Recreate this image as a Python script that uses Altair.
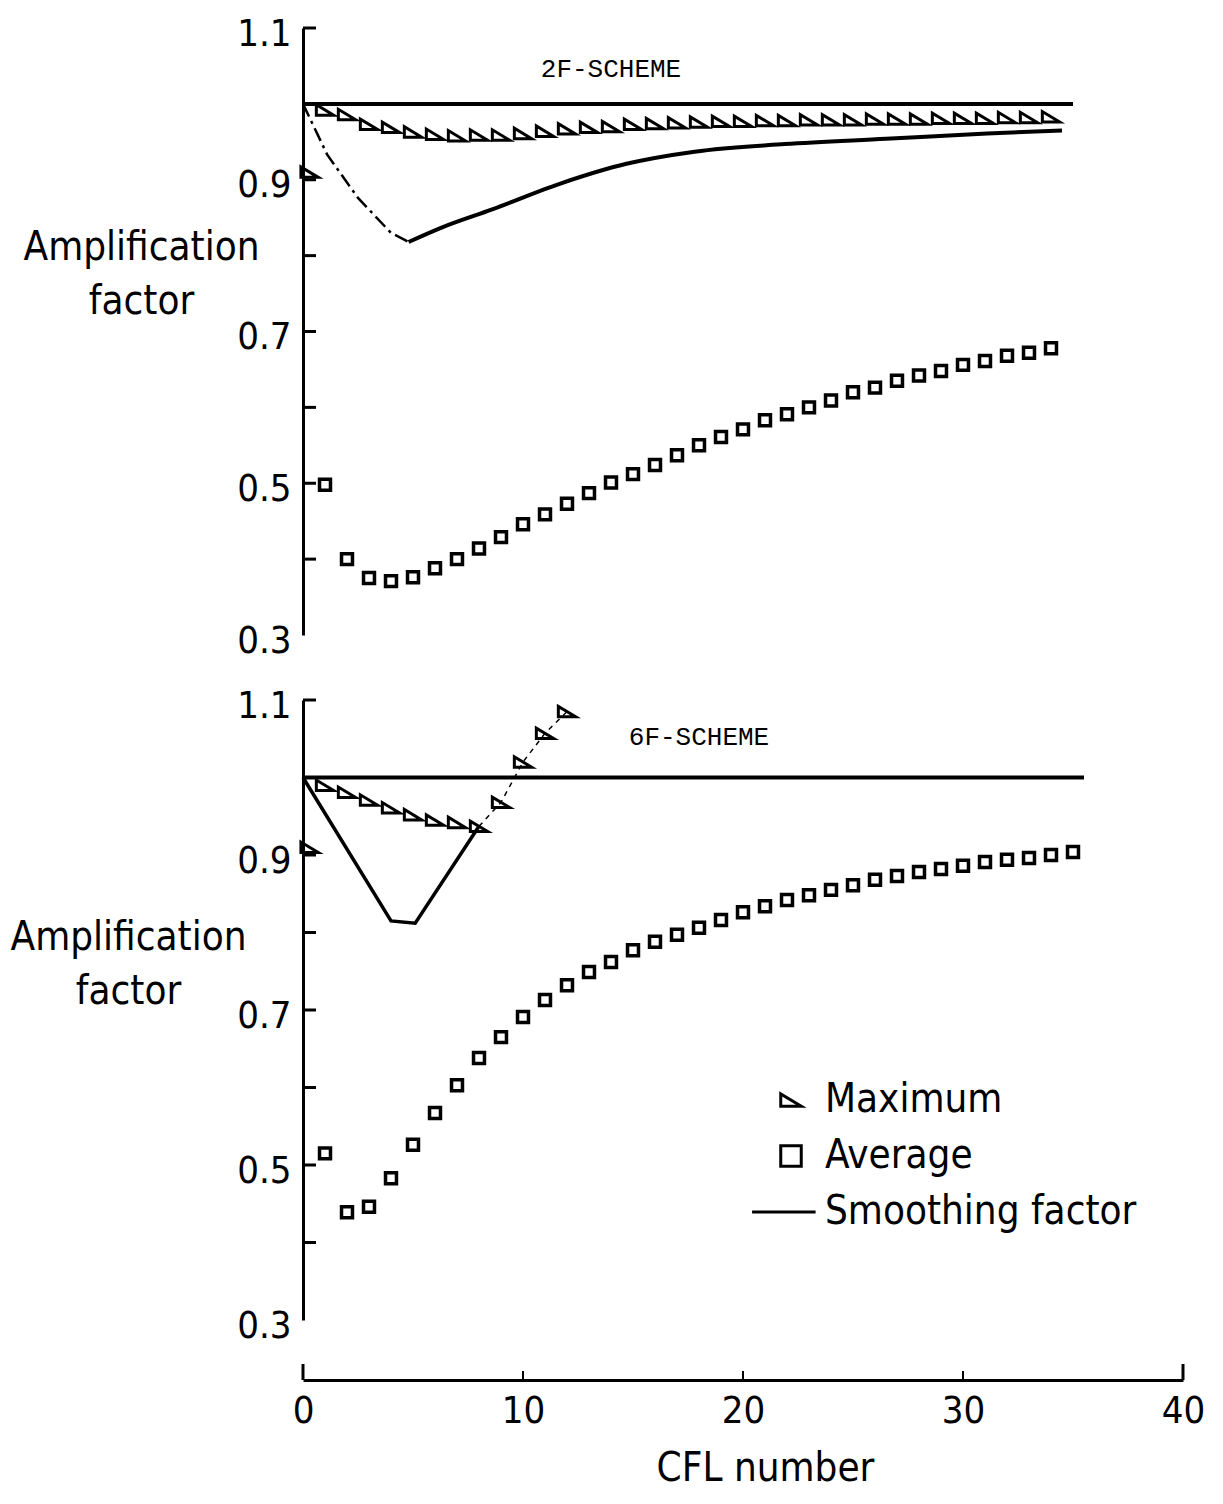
import altair as alt
import pandas as pd

# ---------------- data ----------------
# 2F-SCHEME (upper panel)
avg_2f_cfl = list(range(1, 35))
avg_2f = [0.498, 0.400, 0.375, 0.371, 0.376, 0.388, 0.400, 0.414, 0.429, 0.446,
          0.459, 0.473, 0.487, 0.501, 0.512, 0.524, 0.537, 0.550, 0.561, 0.571,
          0.583, 0.591, 0.600, 0.609, 0.620, 0.626, 0.635, 0.642, 0.648, 0.656,
          0.661, 0.668, 0.672, 0.678]
max_2f_cfl = [0.3] + list(range(1, 35))
max_2f = [0.91,
          0.992, 0.986, 0.973, 0.969, 0.963, 0.960, 0.958, 0.959, 0.959, 0.961,
          0.964, 0.967, 0.969, 0.970, 0.973, 0.974, 0.975, 0.976, 0.977, 0.977,
          0.978, 0.978, 0.979, 0.979, 0.979, 0.980, 0.980, 0.980, 0.981, 0.981,
          0.981, 0.982, 0.982, 0.983]
smooth_2f_cfl = [0, 1.1, 2.5, 4.0, 4.8, 6.3, 8.6, 11.7, 14.7, 17.8, 21.9, 26.5, 31.1, 34.5]
smooth_2f = [1.0, 0.933, 0.876, 0.830, 0.818, 0.837, 0.861, 0.895, 0.921, 0.937,
             0.947, 0.954, 0.961, 0.965]
smooth_2f_dashed_until = 4.8
unity_2f_cfl = [0, 35]
unity_2f = [1.0, 1.0]

# 6F-SCHEME (lower panel)
avg_6f_cfl = list(range(1, 36))
avg_6f = [0.515, 0.439, 0.446, 0.483, 0.526, 0.567, 0.603, 0.638, 0.665, 0.691,
          0.713, 0.732, 0.749, 0.762, 0.777, 0.788, 0.797, 0.806, 0.816, 0.826,
          0.834, 0.842, 0.848, 0.855, 0.861, 0.868, 0.873, 0.878, 0.882, 0.886,
          0.891, 0.894, 0.896, 0.900, 0.904]
max_6f_cfl = [0.3] + list(range(1, 13))
max_6f = [0.91, 0.990, 0.981, 0.971, 0.961, 0.952, 0.945, 0.942, 0.937,
          0.968, 1.020, 1.057, 1.085]
max_6f_connect_from = 8
smooth_6f_cfl = [0, 4.0, 5.1, 8.0]
smooth_6f = [1.0, 0.815, 0.812, 0.937]
unity_6f_cfl = [0, 35.5]
unity_6f = [1.0, 1.0]

# axes / labels
y_tick_values = [0.4, 0.5, 0.6, 0.7, 0.8, 0.9, 1.0, 1.1]
y_label_values = [0.3, 0.5, 0.7, 0.9, 1.1]
x_label_values = [0, 10, 20, 30, 40]
x_end_ticks = [0, 40]
x_mid_ticks = [10, 20, 30]
series_names = ["Maximum", "Average", "Smoothing factor"]
scheme_2f = ["2F-SCHEME"]
scheme_6f = ["6F-SCHEME"]
scheme_2f_pos = (14.0, 1.046)
scheme_6f_pos = (18.0, 1.052)

# ---------------- styling ----------------
FONT = "Liberation Sans Narrow, DejaVu Sans Condensed, Liberation Sans"
MONO = "Liberation Mono"
W = 880
H_TOP = 607
H_BOT = 620
X_OFFSET = 60
TRI = "M-1,-0.6L-1,0.6L1,0.6Z"
LEGEND_LINE = "M-3.8,0L2.4,0"

xs = alt.Scale(domain=[0, 40], nice=False, zero=False)
ys = alt.Scale(domain=[0.3, 1.1], nice=False, zero=False)
shape_scale = alt.Scale(domain=series_names, range=[TRI, "square", LEGEND_LINE])

x_axis = alt.Axis(values=x_label_values, format="d", tickSize=0, domainWidth=3,
                  domainColor="black", offset=X_OFFSET, labelFont=FONT,
                  labelFontSize=38, labelColor="black", labelPadding=12,
                  labelFlush=False, grid=False, title="CFL number",
                  titleFont=FONT, titleFontSize=40, titleFontWeight="normal",
                  titleColor="black", titlePadding=18, titleX=462,
                  titleAlign="center")


def y_enc(title_x, title_y):
    return alt.Y("v:Q", scale=ys, axis=alt.Axis(
        values=y_label_values, format=".1f", tickSize=0, domainWidth=3,
        domainColor="black", labelFont=FONT, labelFontSize=38,
        labelColor="black", labelPadding=12, labelOffset=6, grid=False,
        title=["Amplification", "factor"], titleAngle=0, titleAlign="center",
        titleBaseline="middle", titleX=title_x, titleY=title_y, titleFont=FONT,
        titleFontSize=40, titleFontWeight="normal", titleColor="black",
        titleLineHeight=54))


def panel(avg_c, avg_v, max_c, max_v, sm_c, sm_v, un_c, un_v, dashed_until,
          connect_from, scheme, scheme_pos, H, title_x, title_y, bottom):
    xe = alt.X("cfl:Q", scale=xs, axis=x_axis if bottom else None)
    ye = y_enc(title_x, title_y)

    layers = []
    un_df = pd.DataFrame({"cfl": un_c, "v": un_v})
    layers.append(alt.Chart(un_df).mark_line(color="black", strokeWidth=4)
                  .encode(x=xe, y=ye))

    sm_df = pd.DataFrame({"cfl": sm_c, "v": sm_v})
    if dashed_until is not None:
        dash_df = sm_df[sm_df.cfl <= dashed_until]
        solid_df = sm_df[sm_df.cfl >= dashed_until]
        layers.append(alt.Chart(dash_df).mark_line(
            color="black", strokeWidth=2.5, strokeDash=[14, 5, 3, 5])
            .encode(x=xe, y=ye))
        layers.append(alt.Chart(solid_df).mark_line(
            color="black", strokeWidth=4, interpolate="monotone")
            .encode(x=xe, y=ye))
    else:
        layers.append(alt.Chart(sm_df).mark_line(color="black", strokeWidth=3.5)
                      .encode(x=xe, y=ye))

    max_df = pd.DataFrame({"cfl": max_c, "v": max_v, "series": "Maximum"})
    if connect_from is not None:
        layers.append(alt.Chart(max_df[max_df.cfl >= connect_from]).mark_line(
            color="black", strokeWidth=1.5, strokeDash=[5, 5])
            .encode(x=xe, y=ye))

    avg_df = pd.DataFrame({"cfl": avg_c, "v": avg_v, "series": "Average"})
    legend = (alt.Legend(title=None, orient="none", legendX=468, legendY=380,
                         labelFont=FONT, labelFontSize=40, labelColor="black",
                         labelLimit=500, symbolSize=420, symbolStrokeWidth=3,
                         symbolStrokeColor="black", symbolFillColor="white",
                         rowPadding=16, labelOffset=14)
              if bottom else None)
    shape_enc = alt.Shape("series:N", scale=shape_scale, legend=legend)
    layers.append(alt.Chart(max_df).mark_point(filled=False, color="black",
                                               strokeWidth=3, opacity=1, size=300)
                  .encode(x=xe, y=ye, shape=shape_enc))
    layers.append(alt.Chart(avg_df).mark_point(filled=False, color="black",
                                               strokeWidth=3.5, opacity=1, size=120)
                  .encode(x=xe, y=ye, shape=shape_enc))

    # inward y ticks
    yt = pd.DataFrame({"v": y_tick_values})
    layers.append(alt.Chart(yt).mark_rule(color="black", strokeWidth=3)
                  .encode(y=ye, x=alt.value(0), x2=alt.value(13)))

    if bottom:
        layers.append(alt.Chart(pd.DataFrame({"cfl": x_end_ticks}))
                      .mark_rule(color="black", strokeWidth=3)
                      .encode(x=xe, y=alt.value(H + X_OFFSET),
                              y2=alt.value(H + X_OFFSET - 16)))
        layers.append(alt.Chart(pd.DataFrame({"cfl": x_mid_ticks}))
                      .mark_rule(color="black", strokeWidth=2)
                      .encode(x=xe, y=alt.value(H + X_OFFSET),
                              y2=alt.value(H + X_OFFSET - 9)))

    txt = pd.DataFrame({"cfl": [scheme_pos[0]], "v": [scheme_pos[1]], "label": scheme})
    layers.append(alt.Chart(txt).mark_text(font=MONO, fontSize=26, color="black",
                                           align="center", baseline="middle")
                  .encode(x=xe, y=ye, text="label:N"))

    return alt.layer(*layers).properties(width=W, height=H)


top = panel(avg_2f_cfl, avg_2f, max_2f_cfl, max_2f, smooth_2f_cfl, smooth_2f,
            unity_2f_cfl, unity_2f, smooth_2f_dashed_until, None, scheme_2f,
            scheme_2f_pos, H_TOP, -162, 219, False)
bottom = panel(avg_6f_cfl, avg_6f, max_6f_cfl, max_6f, smooth_6f_cfl, smooth_6f,
               unity_6f_cfl, unity_6f, None, max_6f_connect_from, scheme_6f,
               scheme_6f_pos, H_BOT, -175, 237, True)

chart = (alt.vconcat(top, bottom, spacing=65, bounds="flush")
         .resolve_scale(shape="independent")
         .resolve_legend(shape="independent")
         .configure_view(stroke=None)
         .properties(padding={"left": 2, "top": 7, "right": 5, "bottom": 5},
                     background="white"))

chart.save("out.html", embed_options={"renderer": "svg", "actions": False})
